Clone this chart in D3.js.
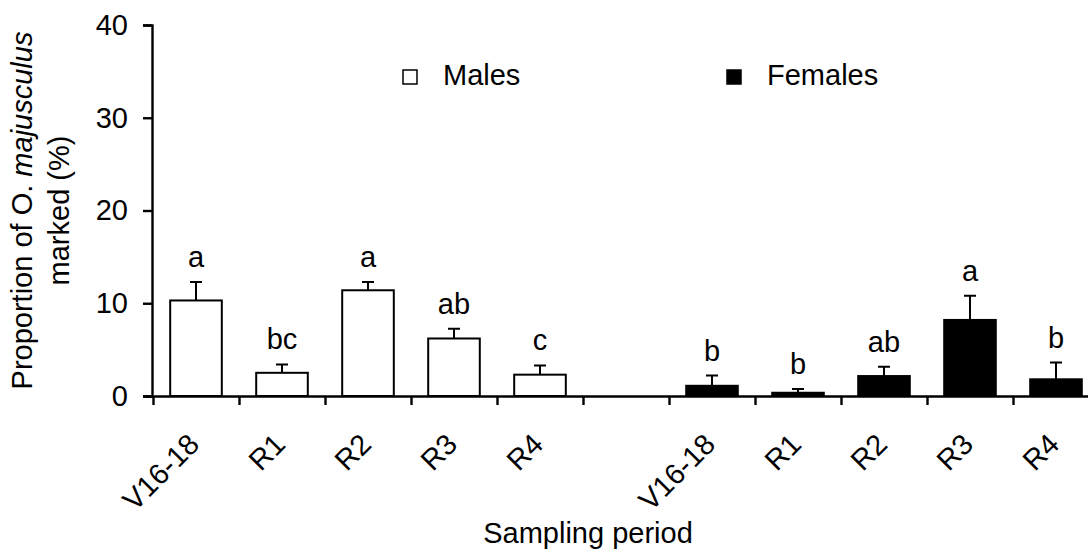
<!DOCTYPE html>
<html>
<head>
<meta charset="utf-8">
<script src="https://cdn.jsdelivr.net/npm/d3@7"></script>
<style>
  body { margin: 0; background: #fff; }
  svg { display: block; font-family: "Liberation Sans", Arial, sans-serif; }
</style>
</head>
<body>
<script>
const periods = ['V16-18', 'R1', 'R2', 'R3', 'R4'];
const maleMean = [10.3, 2.5, 11.4, 6.2, 2.3];
const maleErr = [2.0, 0.9, 0.9, 1.05, 1.0];
const maleLetters = ['a', 'bc', 'a', 'ab', 'c'];
const femaleMean = [1.1, 0.35, 2.15, 8.2, 1.8];
const femaleErr = [1.1, 0.4, 1.0, 2.6, 1.8];
const femaleLetters = ['b', 'b', 'ab', 'a', 'b'];
const yTicks = [0, 10, 20, 30, 40];

const W = 1088, H = 550;
const x0 = 153, x1 = 1099;   // plot runs past the right edge like the original
const yTop = 25, yBot = 396;
const fontSize = 29;
const font = 'Liberation Sans, Arial, sans-serif';

// 11 slots: 5 male, one empty gap, 5 female
const slots = [];
periods.forEach((p, i) => slots.push({ key: 'm' + i, label: p, mean: maleMean[i], err: maleErr[i], letter: maleLetters[i], sex: 'm' }));
slots.push({ key: 'gap', label: '', mean: null });
periods.forEach((p, i) => slots.push({ key: 'f' + i, label: p, mean: femaleMean[i], err: femaleErr[i], letter: femaleLetters[i], sex: 'f' }));

const svg = d3.select('body').append('svg')
  .attr('width', W)
  .attr('height', H);

const x = d3.scaleBand()
  .domain(slots.map(d => d.key))
  .range([x0, x1])
  .paddingInner(0.4)
  .paddingOuter(0.2);

const slotScale = d3.scaleLinear().domain([0, slots.length]).range([x0, x1]);

const y = d3.scaleLinear().domain([0, 40]).range([yBot, yTop]);

// y axis
const yAxis = svg.append('g')
  .attr('transform', `translate(${x0 - 1},0)`)
  .call(d3.axisLeft(y).tickValues(yTicks).tickSize(9).tickPadding(15));
yAxis.selectAll('text').attr('font-size', fontSize).attr('font-family', font).attr('fill', '#000');

// x axis, ticks at slot boundaries
const xAxis = svg.append('g')
  .attr('transform', `translate(0,${yBot})`)
  .call(d3.axisBottom(slotScale).tickValues(d3.range(0, slots.length + 1)).tickSize(9).tickFormat(''));
xAxis.select('.domain').attr('d', `M${x0 - 8},0.5H${x1}`);

svg.selectAll('.domain, .tick line').attr('stroke', '#000').attr('stroke-width', 2.4);

// category labels
const labelAxis = svg.append('g')
  .attr('transform', `translate(0,${yBot})`)
  .call(d3.axisBottom(x).tickSize(0).tickFormat(k => slots.find(s => s.key === k).label));
labelAxis.select('.domain').remove();
labelAxis.selectAll('text')
  .attr('font-size', fontSize)
  .attr('font-family', font)
  .attr('fill', '#000')
  .attr('text-anchor', 'end')
  .attr('x', 0)
  .attr('y', 0)
  .attr('dy', null)
  .attr('transform', 'translate(5,50) rotate(-45)');

const bars = slots.filter(d => d.mean !== null);

// error bars
const cap = 6;
svg.selectAll('.err').data(bars).enter().append('path')
  .attr('class', 'err')
  .attr('fill', 'none')
  .attr('stroke', '#000')
  .attr('stroke-width', 2)
  .attr('d', d => {
    const cx = x(d.key) + x.bandwidth() / 2;
    const top = y(d.mean + d.err);
    return `M${cx},${y(d.mean)}V${top}M${cx - cap},${top}H${cx + cap}`;
  });

// bars
svg.selectAll('.bar').data(bars).enter().append('rect')
  .attr('class', 'bar')
  .attr('x', d => x(d.key))
  .attr('y', d => y(d.mean))
  .attr('width', x.bandwidth())
  .attr('height', d => yBot - y(d.mean))
  .attr('fill', d => d.sex === 'm' ? '#fff' : '#000')
  .attr('stroke', '#000')
  .attr('stroke-width', 2);

// significance letters
svg.selectAll('.letter').data(bars).enter().append('text')
  .attr('class', 'letter')
  .attr('x', d => x(d.key) + x.bandwidth() / 2)
  .attr('y', d => y(d.mean + d.err) - 15)
  .attr('text-anchor', 'middle')
  .attr('font-size', fontSize)
  .text(d => d.letter);

// legend
const legend = [{ label: 'Males', fill: '#fff', x: 403 }, { label: 'Females', fill: '#000', x: 727 }];
const lg = svg.selectAll('.legend').data(legend).enter().append('g')
  .attr('transform', d => `translate(${d.x},70)`);
lg.append('rect')
  .attr('width', 14).attr('height', 14)
  .attr('fill', d => d.fill).attr('stroke', '#000').attr('stroke-width', 1.5);
lg.append('text')
  .attr('x', 40).attr('y', 15)
  .attr('font-size', fontSize)
  .text(d => d.label);

// axis titles
svg.append('text')
  .attr('x', 588)
  .attr('y', 543)
  .attr('text-anchor', 'middle')
  .attr('font-size', fontSize)
  .text('Sampling period');

const yt = svg.append('text')
  .attr('transform', `translate(0,${(yTop + yBot) / 2}) rotate(-90)`)
  .attr('text-anchor', 'middle')
  .attr('font-size', fontSize);
yt.append('tspan').attr('x', 0).attr('y', 32).text('Proportion of O. ');
yt.append('tspan').attr('font-style', 'italic').text('majusculus');
yt.append('tspan').attr('x', 0).attr('y', 69).text('marked (%)');
</script>
</body>
</html>
